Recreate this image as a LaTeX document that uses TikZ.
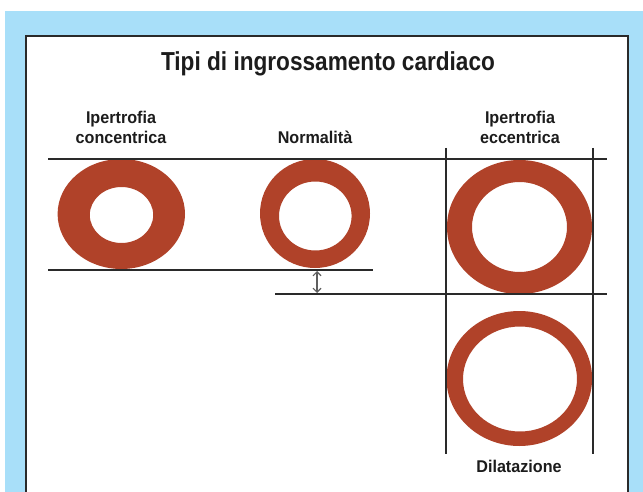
\documentclass[tikz,border=0pt]{standalone}
\usepackage{fontspec}
\setmainfont{Liberation Sans}
\newfontfamily\titlefont{Liberation Sans}[FakeStretch=0.87]
\newfontfamily\labelfont{Liberation Sans}[FakeStretch=0.95]
\usetikzlibrary{arrows.meta}
\definecolor{bgblue}{HTML}{A8DFF9}
\definecolor{ringred}{HTML}{B04229}
\definecolor{ln}{HTML}{2A2A2A}
\definecolor{txt}{HTML}{1C1C1C}
\tikzset{
  rule/.style={draw=ln, line width=1.3pt},
  ringfill/.style={fill=ringred, even odd rule},
  lbl/.style={font=\labelfont\bfseries\fontsize{17}{20}\selectfont, text=txt, anchor=base, inner sep=0pt},
  ttl/.style={font=\titlefont\bfseries\fontsize{26}{30}\selectfont, text=txt, anchor=base, inner sep=0pt},
  dimarrow/.style={draw=ln!75, line width=1.1pt, {Straight Barb[length=4pt,width=8pt]}-{Straight Barb[length=4pt,width=8pt]}}
}
\begin{document}
\begin{tikzpicture}[x=1pt,y=-1pt]
\useasboundingbox (0,0) rectangle (643,492);
\fill[white] (0,0) rectangle (643,492);
\fill[bgblue] (5,11) rectangle (643,492);
\fill[white] (26,36) rectangle (628,492);
\draw[rule] (26,492) -- (26,36) -- (628,36) -- (628,492);

% title
\node[ttl] (title) at (328,71) {Tipi di ingrossamento cardiaco};

% labels
\node[lbl] (lc1) at (121,123.5) {Ipertrofia};
\node[lbl] (lc2) at (121,143.7) {concentrica};
\node[lbl] (ln1) at (315,144) {Normalità};
\node[lbl] (le1) at (520,123.5) {Ipertrofia};
\node[lbl] (le2) at (520,143.7) {eccentrica};
\node[lbl] (ld1) at (519,472.5) {Dilatazione};

% rings
\fill[ringfill] (121.3,214) ellipse [x radius=63.7pt, y radius=55pt]
                (121.5,215) ellipse [x radius=31.7pt, y radius=28pt];
\fill[ringfill] (315,213.5) ellipse [x radius=55pt, y radius=54.5pt]
                (315.3,216) ellipse [x radius=36.3pt, y radius=34.5pt];
\fill[ringfill] (519.5,227) ellipse [x radius=72.5pt, y radius=67pt]
                (519.5,227) ellipse [x radius=47.5pt, y radius=45pt];
\fill[ringfill] (519.3,378.5) ellipse [x radius=72.8pt, y radius=67.5pt]
                (520,379) ellipse [x radius=57pt, y radius=52.5pt];

% rules
\coordinate (t1) at (48,159);  \coordinate (t2) at (607,159);
\coordinate (b1) at (48,270);  \coordinate (b2) at (373,270);
\coordinate (m1) at (275,294); \coordinate (m2) at (607,294);
\coordinate (v1a) at (446,148); \coordinate (v1b) at (446,454);
\coordinate (v2a) at (593,148); \coordinate (v2b) at (593,454);
\draw[rule] (t1) -- (t2);
\draw[rule] (b1) -- (b2);
\draw[rule] (m1) -- (m2);
\draw[rule] (v1a) -- (v1b);
\draw[rule] (v2a) -- (v2b);

% dimension arrow
\coordinate (da) at (317,271);
\coordinate (db) at (317,293);
\draw[dimarrow] (da) -- (db);
\end{tikzpicture}
\end{document}
